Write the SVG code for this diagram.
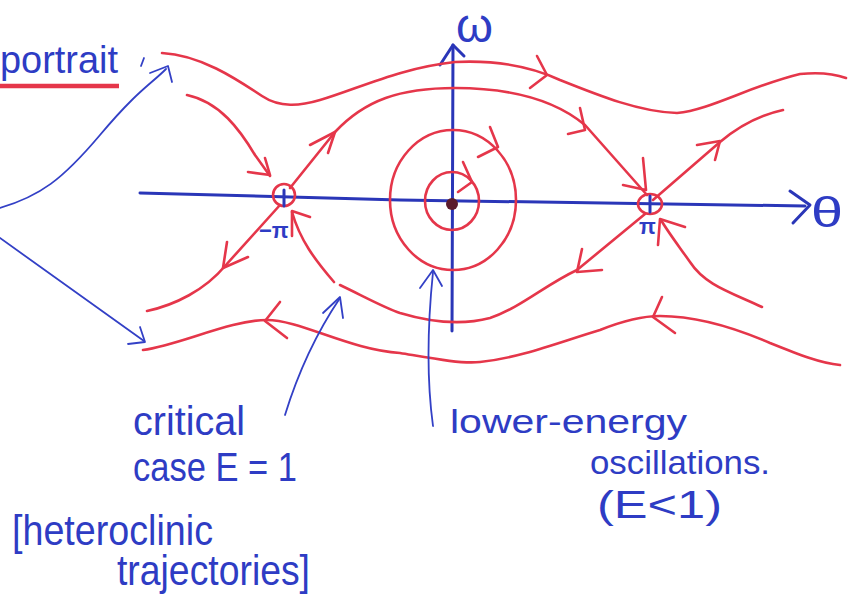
<svg xmlns="http://www.w3.org/2000/svg" width="850" height="613" viewBox="0 0 850 613">
<style>
.r{stroke:#e5364a;fill:none;stroke-width:2.6;stroke-linecap:round;stroke-linejoin:round}
.ax{stroke:#2a36b8;fill:none;stroke-width:3;stroke-linecap:round;stroke-linejoin:round}
.b{stroke:#3340c6;fill:none;stroke-width:1.8;stroke-linecap:round;stroke-linejoin:round}
.t{fill:#2e3cc4;font-family:"Liberation Sans","DejaVu Sans",sans-serif}
</style>
<rect width="850" height="613" fill="#ffffff"/>

<g id="axes">
  <polyline class="ax" points="140,193 400,200 805,206"/>
  <path class="ax" d="M790,191 L810,205 L793,223"/>
  <path class="ax" d="M453,45 L452,331"/>
  <path class="ax" d="M440,65 L453,45 L464,56"/>
  <text class="t" x="811" y="227" font-size="42" textLength="32" lengthAdjust="spacingAndGlyphs">θ</text>
  <text class="t" x="456" y="42" font-size="48" textLength="37" lengthAdjust="spacingAndGlyphs">ω</text>
</g>

<g id="saddle-left">
  <circle cx="284" cy="195" r="11" class="r" stroke-width="2"/>
  <path class="ax" d="M284,190 L284,206" stroke-width="2.5"/>
  <text class="t" x="259" y="238" font-size="22" font-weight="bold">−π</text>
</g>
<g id="saddle-right">
  <ellipse cx="650" cy="204" rx="12" ry="10" class="r" stroke-width="2"/>
  <path class="ax" d="M650,196 L650,212" stroke-width="2.5"/>
  <text class="t" x="639" y="234" font-size="22" font-weight="bold">π</text>
</g>
<g id="centre">
  <circle cx="452" cy="204" r="6" fill="#5b1b2c"/>
  <ellipse class="r" cx="452" cy="201" rx="27" ry="29"/>
  <ellipse class="r" cx="453" cy="200" rx="63" ry="70"/>
</g>

<g id="trajectories">
  <path class="r" d="M162,53 C200,55 235,78 262,96 C280,108 300,106 320,100 C360,88 400,68 455,62 C495,60 530,66 560,80 C600,96 640,112 677,113 C710,110 750,86 800,74 C820,72 835,74 846,78"/>
  <path class="r" d="M290,188 L335,132 C365,100 400,88 455,88 C510,88 555,100 585,125 L647,195"/>
  <path class="r" d="M187,95 C220,102 240,130 255,155 L270,176"/>
  <path class="r" d="M653,200 L720,142 C740,125 760,115 783,110"/>
  <path class="r" d="M280,205 L225,266 C205,290 175,305 147,311"/>
  <path class="r" d="M334,282 C315,260 300,240 292,212"/>
  <path class="r" d="M340,285 C365,297 385,308 400,313 C430,322 460,326 490,318 C520,308 545,285 577,270 L645,214"/>
  <path class="r" d="M762,307 C730,292 705,285 690,262 C678,245 668,232 661,220"/>
  <path class="r" d="M143,350 C180,345 230,320 267,320 C300,320 350,350 400,353 C430,358 460,364 480,362 C520,358 560,342 600,330 C620,322 640,316 660,316 C700,316 740,330 770,343 C800,355 820,363 840,365"/>
</g>

<g id="flow-arrows">
  <path class="r" d="M537,56 L547,75 L530,88"/>
  <path class="r" d="M310,145 L335,132 L328,153"/>
  <path class="r" d="M580,108 L585,130 L568,134"/>
  <path class="r" d="M643,158 L646,190 L623,185"/>
  <path class="r" d="M463,162 L472,182 L458,192"/>
  <path class="r" d="M490,127 L498,147 L478,157"/>
  <path class="r" d="M265,158 L270,175 L248,172"/>
  <path class="r" d="M697,145 L720,141 L715,160"/>
  <path class="r" d="M227,242 L223,268 L248,257"/>
  <path class="r" d="M292,236 L292,211 L310,217"/>
  <path class="r" d="M280,302 L265,321 L287,338"/>
  <path class="r" d="M582,249 L577,272 L602,270"/>
  <path class="r" d="M658,245 L660,219 L685,227"/>
  <path class="r" d="M662,297 L653,317 L675,333"/>
</g>

<g id="annotations">
  <text class="t" x="0" y="73" font-size="38" textLength="118" lengthAdjust="spacingAndGlyphs">portrait</text>
  <path d="M0,86 L119,86" stroke="#e5364a" stroke-width="4.5"/>
  <path class="b" d="M144,58 L141,66" stroke-width="2.5"/>
  <path class="b" d="M0,208 C40,196 62,180 100,135 S150,85 166,69"/>
  <path class="b" d="M150,73 L168,66 L172,82" stroke-width="2.4"/>
  <path class="b" d="M0,238 L144,341"/>
  <path class="b" d="M140,327 L145,342 L128,344" stroke-width="2.4"/>
  <path class="b" d="M285,415 Q305,350 340,298"/>
  <path class="b" d="M323,313 L340,297 L343,318" stroke-width="2.4"/>
  <path class="b" d="M433,426 Q424,360 433,272"/>
  <path class="b" d="M420,288 L433,270 L442,286" stroke-width="2.4"/>

  <text class="t" x="133" y="435" font-size="40" textLength="112" lengthAdjust="spacingAndGlyphs">critical</text>
  <text class="t" x="133" y="481" font-size="40" textLength="164" lengthAdjust="spacingAndGlyphs">case E = 1</text>
  <text class="t" x="12" y="545" font-size="42" textLength="201" lengthAdjust="spacingAndGlyphs">[heteroclinic</text>
  <text class="t" x="117" y="585" font-size="42" textLength="193" lengthAdjust="spacingAndGlyphs">trajectories]</text>
  <text class="t" x="450" y="433" font-size="34" textLength="237" lengthAdjust="spacingAndGlyphs">lower-energy</text>
  <text class="t" x="590" y="474" font-size="34" textLength="180" lengthAdjust="spacingAndGlyphs">oscillations.</text>
  <text class="t" x="597" y="518" font-size="38" textLength="125" lengthAdjust="spacingAndGlyphs">(E&lt;1)</text>
</g>
</svg>
